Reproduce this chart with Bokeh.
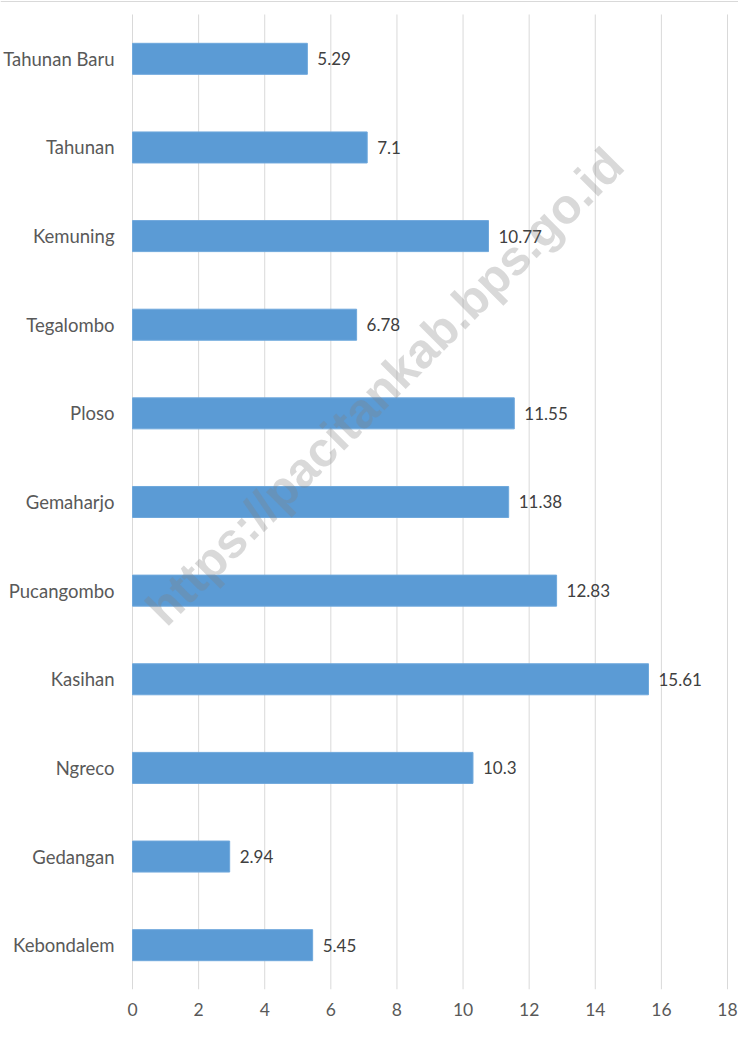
from bokeh.plotting import figure
from bokeh.models import Range1d, FixedTicker, Span
from bokeh.core.properties import value
from bokeh.embed import file_html
from bokeh.resources import INLINE

# Data (top to bottom as in the chart)
categories = ["Tahunan Baru", "Tahunan", "Kemuning", "Tegalombo", "Ploso", "Gemaharjo",
              "Pucangombo", "Kasihan", "Ngreco", "Gedangan", "Kebondalem"]
values = [5.29, 7.1, 10.77, 6.78, 11.55, 11.38, 12.83, 15.61, 10.3, 2.94, 5.45]
value_labels = ["5.29", "7.1", "10.77", "6.78", "11.55", "11.38", "12.83", "15.61", "10.3", "2.94", "5.45"]
x_ticks = [0, 2, 4, 6, 8, 10, 12, 14, 16, 18]

n = len(categories)
ys = [n - 1 - i for i in range(n)]

PX_X = 595 / 18.0
PX_Y = 88.64
top_pad = 14 / PX_Y

p = figure(width=738, height=1026, output_backend="svg", toolbar_location=None,
           x_range=Range1d(-132 / PX_X, 606 / PX_X),
           y_range=Range1d(-0.5, n - 0.5 + top_pad),
           y_axis_location=None, min_border_left=0, min_border_right=0,
           min_border_top=0, min_border_bottom=37)
p.outline_line_color = None
p.xgrid.visible = False
p.ygrid.visible = False
p.background_fill_color = "white"
p.border_fill_color = "white"

# gridlines
p.segment(x0=x_ticks, y0=[-0.5] * len(x_ticks), x1=x_ticks, y1=[n - 0.5] * len(x_ticks),
          line_color="#D9D9D9", line_width=1)

# top border line
p.add_layout(Span(location=n - 0.5 + top_pad - 1.0 / PX_Y, dimension="width",
                  line_color="#D9D9D9", line_width=1))

# bars
p.hbar(y=ys, right=values, left=0, height=0.35, fill_color="#5B9BD5", line_color="#6FA8DC",
       line_width=1)

# value labels
p.text(x=values, y=ys, text=value_labels, x_offset=10, text_align="left", text_baseline="middle",
       text_font=value("Lato"), text_font_size="17px", text_color="#404040")

# category labels
p.text(x=[0] * n, y=ys, text=categories, x_offset=-18, text_align="right", text_baseline="middle",
       text_font=value("Lato"), text_font_size="18.5px", text_color="#595959")

# watermark
p.text(x=[(392 - 140) / PX_X], y=[(953 - 394) / PX_Y], text=["https://pacitankab.bps.go.id"],
       angle=0.785, text_align="center", text_baseline="middle",
       text_font=value("Liberation Sans"), text_font_style="bold", text_font_size="49px",
       text_color="#808080", text_alpha=0.3)

ax = p.xaxis[0]
ax.ticker = FixedTicker(ticks=x_ticks)
ax.axis_line_color = None
ax.major_tick_line_color = None
ax.minor_tick_line_color = None
ax.major_tick_out = 0
ax.major_label_standoff = 13
ax.major_label_text_font = "Lato"
ax.major_label_text_font_size = "17.5px"
ax.major_label_text_color = "#595959"

open("out.html", "w").write(file_html(p, INLINE))
